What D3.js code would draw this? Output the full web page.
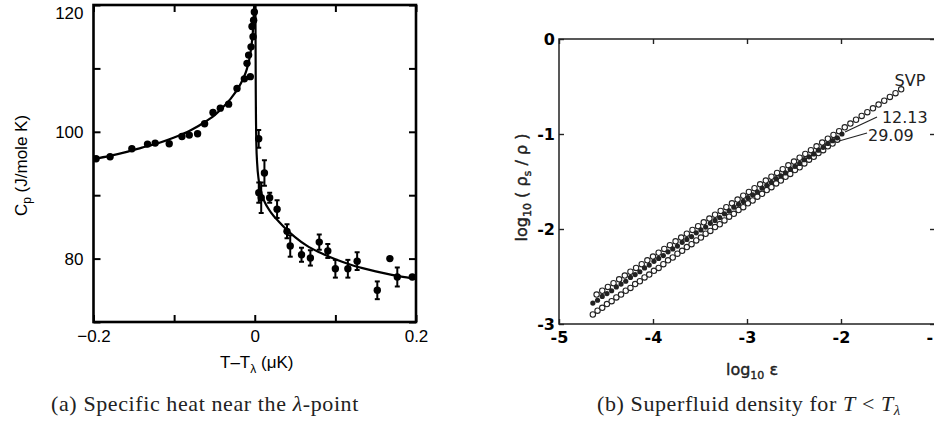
<!DOCTYPE html>
<html><head><meta charset="utf-8">
<script src="https://cdn.jsdelivr.net/npm/d3@7"></script>
<style>body{margin:0;background:#fff}svg{display:block}</style>
</head><body>
<svg id="c" width="934" height="434"></svg>
<script>
// ---------- Panel (a): specific heat ----------
const heatBelowT = [-0.1968,-0.1794,-0.1524,-0.133,-0.1235,-0.1061,-0.0903,-0.0812,-0.0709,-0.0622,-0.0518,-0.0427,-0.0324,-0.022,-0.0129,-0.0055,-0.0096,-0.0076,-0.0046,-0.0021,-0.0034,-0.0014,-0.0005];
const heatBelowC = [95.75,96.06,97.32,98.06,98.22,98.11,99.26,99.48,99.69,101.26,103.04,103.73,104.36,106.82,108.35,108.7,110.8,112.1,113.4,115.0,116.6,117.6,118.9];
const heatAboveT = [0.0049,0.005,0.008,0.012,0.0185,0.0277,0.040,0.044,0.058,0.069,0.080,0.0906,0.100,0.1155,0.127,0.152,0.1676,0.1768,0.1954];
const heatAboveC = [98.9,90.4,89.6,93.5,89.6,87.8,84.3,82.0,80.6,80.1,82.6,81.2,78.4,78.4,79.6,75.0,80.0,77.1,77.1];
const heatAboveErr = [1.4,1.6,2.4,2.0,0.8,1.4,1.1,1.7,1.1,1.2,1.2,1.1,1.4,1.4,1.4,1.4,0,1.5,0];
const fitBelowT = [-0.2,-0.18,-0.16,-0.14,-0.12,-0.10,-0.08,-0.06,-0.05,-0.04,-0.03,-0.02,-0.015,-0.01,-0.007,-0.005,-0.003,-0.002,-0.001,-0.0004];
const fitBelowC = [95.7,96.2,96.8,97.5,98.2,99.1,100.2,101.7,102.6,103.8,105.2,107.0,108.2,109.8,111.3,112.7,114.8,116.4,118.8,121];
const fitAboveT = [0.0008,0.0012,0.002,0.003,0.005,0.008,0.012,0.02,0.03,0.04,0.05,0.065,0.08,0.10,0.12,0.14,0.16,0.18,0.20];
const fitAboveC = [121,108,98.0,95.0,92.3,90.4,89.0,87.3,85.8,84.5,83.4,82.0,81.0,79.9,79.0,78.3,77.7,77.2,76.8];
const xTicksA = [-0.2,-0.1,0,0.1,0.2];
const xTickLabelsA = ["\u22120.2","","0","","0.2"];
const yTicksA = [70,80,90,100,110,120];
const yTickLabelsA = ["","80","","100","","120"];

// ---------- Panel (b): superfluid density ----------
const svpX = [-4.60,-4.54,-4.48,-4.42,-4.36,-4.30,-4.24,-4.18,-4.12,-4.06,-4.00,-3.94,-3.88,-3.82,-3.76,-3.70,-3.64,-3.58,-3.52,-3.46,-3.40,-3.34,-3.28,-3.22,-3.16,-3.10,-3.04,-2.98,-2.92,-2.86,-2.80,-2.74,-2.68,-2.62,-2.56,-2.50,-2.44,-2.38,-2.32,-2.26,-2.20,-2.14,-2.08,-2.02,-1.96,-1.90,-1.84,-1.78,-1.72,-1.66,-1.60,-1.54,-1.48,-1.42,-1.36];
const svpY = [-2.69,-2.65,-2.61,-2.57,-2.53,-2.49,-2.45,-2.41,-2.37,-2.33,-2.29,-2.25,-2.21,-2.17,-2.13,-2.09,-2.05,-2.01,-1.97,-1.93,-1.89,-1.85,-1.81,-1.77,-1.73,-1.69,-1.65,-1.61,-1.57,-1.53,-1.49,-1.45,-1.41,-1.37,-1.33,-1.29,-1.25,-1.21,-1.17,-1.13,-1.09,-1.05,-1.01,-0.97,-0.93,-0.89,-0.85,-0.81,-0.77,-0.73,-0.69,-0.65,-0.61,-0.57,-0.53];
const bar1213X = [-4.64,-4.59,-4.54,-4.49,-4.44,-4.39,-4.34,-4.29,-4.24,-4.19,-4.14,-4.09,-4.04,-3.99,-3.94,-3.89,-3.84,-3.79,-3.74,-3.69,-3.64,-3.59,-3.54,-3.49,-3.44,-3.39,-3.34,-3.29,-3.24,-3.19,-3.14,-3.09,-3.04,-2.99,-2.94,-2.89,-2.84,-2.79,-2.74,-2.69,-2.64,-2.59,-2.54,-2.49,-2.44,-2.39,-2.34,-2.29,-2.24,-2.19,-2.14,-2.09,-2.04,-1.99];
const bar1213Y = [-2.78,-2.75,-2.71,-2.68,-2.65,-2.61,-2.58,-2.55,-2.51,-2.48,-2.45,-2.41,-2.38,-2.34,-2.31,-2.28,-2.24,-2.21,-2.18,-2.14,-2.11,-2.08,-2.04,-2.01,-1.98,-1.94,-1.91,-1.88,-1.84,-1.81,-1.77,-1.74,-1.71,-1.67,-1.64,-1.61,-1.57,-1.54,-1.51,-1.47,-1.44,-1.41,-1.37,-1.34,-1.31,-1.27,-1.24,-1.21,-1.17,-1.14,-1.10,-1.07,-1.04,-1.00];
const bar2909X = [-4.64,-4.59,-4.54,-4.49,-4.44,-4.39,-4.34,-4.29,-4.24,-4.19,-4.14,-4.09,-4.04,-3.99,-3.94,-3.89,-3.84,-3.79,-3.74,-3.69,-3.64,-3.59,-3.54,-3.49,-3.44,-3.39,-3.34,-3.29,-3.24,-3.19,-3.14,-3.09,-3.04,-2.99,-2.94,-2.89,-2.84,-2.79,-2.74,-2.69,-2.64,-2.59,-2.54,-2.49,-2.44,-2.39,-2.34,-2.29,-2.24,-2.19,-2.14,-2.09,-2.04];
const bar2909Y = [-2.90,-2.86,-2.83,-2.79,-2.76,-2.72,-2.69,-2.65,-2.62,-2.58,-2.55,-2.51,-2.48,-2.44,-2.41,-2.37,-2.33,-2.30,-2.26,-2.23,-2.19,-2.16,-2.12,-2.09,-2.05,-2.02,-1.98,-1.95,-1.91,-1.87,-1.84,-1.80,-1.77,-1.73,-1.70,-1.66,-1.63,-1.59,-1.56,-1.52,-1.49,-1.45,-1.42,-1.38,-1.35,-1.31,-1.27,-1.24,-1.20,-1.17,-1.13,-1.10,-1.06];
const xTicksB = [-5,-4,-3,-2,-1];
const xTickLabelsB = ["-5","-4","-3","-2","-1"];
const yTicksB = [0,-1,-2,-3];
const yTickLabelsB = ["0","-1","-2","-3"];
// annotation anchors (data units)
const labelNames = ["SVP","12.13","29.09"];
const labelAt = [[-1.43,-0.495],[-1.565,-0.884],[-1.713,-1.074]];
const leaderFrom = [null,[-1.957,-0.979],[-2.021,-1.074]];
const leaderTo = [null,[-1.617,-0.821],[-1.723,-0.989]];

const svg = d3.select("#c");
const sans = "'Liberation Sans', Arial, Helvetica, sans-serif";
const lettering = "'DejaVu Sans', sans-serif";
const serif = "'Liberation Serif', 'DejaVu Serif', serif";

// ===== Panel A =====
const xA = d3.scaleLinear().domain([-0.2,0.2]).range([93.5,416]);
const yA = d3.scaleLinear().domain([70,120]).range([322,5]);
svg.append("clipPath").attr("id","clipA").append("rect")
  .attr("x",xA(-0.2)).attr("y",yA(120)).attr("width",xA(0.2)-xA(-0.2)).attr("height",yA(70)-yA(120));
const gA = svg.append("g");

function styleAxis(g, col, sw, font, fs, weight){
  g.select(".domain").remove();
  g.selectAll(".tick line").attr("stroke",col).attr("stroke-width",sw);
  g.selectAll(".tick text").attr("font-family",font).attr("font-size",fs).attr("fill","#000").attr("font-weight",weight||"normal");
  return g;
}
styleAxis(gA.append("g").attr("transform",`translate(0,${yA(70)})`)
  .call(d3.axisBottom(xA).tickValues(xTicksA).tickSize(-7).tickPadding(8).tickFormat((d,i)=>xTickLabelsA[i])),"#000",2,sans,17);
styleAxis(gA.append("g").attr("transform",`translate(0,${yA(120)})`)
  .call(d3.axisTop(xA).tickValues(xTicksA).tickSize(-7).tickFormat("")),"#000",2,sans,17);
const leftA = styleAxis(gA.append("g").attr("transform",`translate(${xA(-0.2)},0)`)
  .call(d3.axisLeft(yA).tickValues(yTicksA).tickSize(-7).tickPadding(10).tickFormat((d,i)=>yTickLabelsA[i])),"#000",2,sans,17);
leftA.selectAll(".tick text").filter(d=>d===120).attr("dy","0.82em");
styleAxis(gA.append("g").attr("transform",`translate(${xA(0.2)},0)`)
  .call(d3.axisRight(yA).tickValues(yTicksA).tickSize(-7).tickFormat("")),"#000",2,sans,17);

const plotA = gA.append("g").attr("clip-path","url(#clipA)");
const lineA = d3.line().x(d=>xA(d[0])).y(d=>yA(d[1])).curve(d3.curveMonotoneX);
plotA.append("path").datum(fitBelowT.map((t,i)=>[t,fitBelowC[i]]))
  .attr("d",lineA).attr("fill","none").attr("stroke","#000").attr("stroke-width",2.2);
plotA.append("path").datum(fitAboveT.map((t,i)=>[t,fitAboveC[i]]))
  .attr("d",lineA).attr("fill","none").attr("stroke","#000").attr("stroke-width",2.2);
const above = heatAboveT.map((t,i)=>({t, c:heatAboveC[i], e:heatAboveErr[i]}));
const eb = plotA.selectAll("g.eb").data(above.filter(d=>d.e>0)).enter().append("g");
eb.append("line").attr("x1",d=>xA(d.t)).attr("x2",d=>xA(d.t)).attr("y1",d=>yA(d.c-d.e)).attr("y2",d=>yA(d.c+d.e)).attr("stroke","#000").attr("stroke-width",2);
eb.append("line").attr("x1",d=>xA(d.t)-2.5).attr("x2",d=>xA(d.t)+2.5).attr("y1",d=>yA(d.c-d.e)).attr("y2",d=>yA(d.c-d.e)).attr("stroke","#000").attr("stroke-width",2);
eb.append("line").attr("x1",d=>xA(d.t)-2.5).attr("x2",d=>xA(d.t)+2.5).attr("y1",d=>yA(d.c+d.e)).attr("y2",d=>yA(d.c+d.e)).attr("stroke","#000").attr("stroke-width",2);
plotA.selectAll("circle.ab").data(above).enter().append("circle")
  .attr("cx",d=>xA(d.t)).attr("cy",d=>yA(d.c)).attr("r",3.7).attr("fill","#000");
plotA.selectAll("circle.bl").data(heatBelowT.map((t,i)=>[t,heatBelowC[i]])).enter().append("circle")
  .attr("cx",d=>xA(d[0])).attr("cy",d=>yA(d[1])).attr("r",3.7).attr("fill","#000");
gA.append("rect").attr("x",xA(-0.2)).attr("y",yA(120)).attr("width",xA(0.2)-xA(-0.2)).attr("height",yA(70)-yA(120))
  .attr("fill","none").attr("stroke","#000").attr("stroke-width",2.6);
const yTitleA = gA.append("text").attr("transform",`translate(27,${(yA(70)+yA(120))/2 + 2}) rotate(-90)`)
  .attr("text-anchor","middle").attr("font-family",sans).attr("font-size",17);
yTitleA.append("tspan").text("C");
yTitleA.append("tspan").attr("font-size",12).attr("dy",4).text("p");
yTitleA.append("tspan").attr("dy",-4).text(" (J/mole K)");
const xTitleA = gA.append("text").attr("x",xA(0)+2).attr("y",368)
  .attr("text-anchor","middle").attr("font-family",sans).attr("font-size",17);
xTitleA.append("tspan").text("T\u2013T");
xTitleA.append("tspan").attr("font-size",12).attr("dy",5).text("\u03bb");
xTitleA.append("tspan").attr("dy",-5).text(" (\u03bcK)");

// ===== Panel B =====
const xB = d3.scaleLinear().domain([-5,-1]).range([559,935]);
const yB = d3.scaleLinear().domain([-3,0]).range([324,39]);
const gB = svg.append("g");
const ink = "#222";
styleAxis(gB.append("g").attr("transform",`translate(0,${yB(-3)})`)
  .call(d3.axisBottom(xB).tickValues(xTicksB).tickSize(-5).tickPadding(8).tickFormat((d,i)=>xTickLabelsB[i])),ink,1.4,lettering,16,"bold");
styleAxis(gB.append("g").attr("transform",`translate(0,${yB(0)})`)
  .call(d3.axisTop(xB).tickValues(xTicksB).tickSize(-5).tickFormat("")),ink,1.4,lettering,16);
styleAxis(gB.append("g").attr("transform",`translate(${xB(-5)},0)`)
  .call(d3.axisLeft(yB).tickValues(yTicksB).tickSize(-5).tickPadding(4).tickFormat((d,i)=>yTickLabelsB[i])),ink,1.4,lettering,16,"bold");
styleAxis(gB.append("g").attr("transform",`translate(${xB(-1)},0)`)
  .call(d3.axisRight(yB).tickValues(yTicksB).tickSize(-5).tickFormat("")),ink,1.4,lettering,16);
gB.append("rect").attr("x",xB(-5)).attr("y",yB(0)).attr("width",xB(-1)-xB(-5)).attr("height",yB(-3)-yB(0))
  .attr("fill","none").attr("stroke",ink).attr("stroke-width",1.5);

function openSeries(xs, ys){
  gB.append("g").selectAll("circle").data(xs.map((x,i)=>[x,ys[i]])).enter().append("circle")
    .attr("cx",d=>xB(d[0])).attr("cy",d=>yB(d[1])).attr("r",2.7)
    .attr("fill","#fff").attr("stroke",ink).attr("stroke-width",1.1);
}
openSeries(bar2909X, bar2909Y);
openSeries(svpX, svpY);
gB.append("g").selectAll("circle").data(bar1213X.map((x,i)=>[x,bar1213Y[i]])).enter().append("circle")
  .attr("cx",d=>xB(d[0])).attr("cy",d=>yB(d[1])).attr("r",2.6).attr("fill",ink);

labelNames.forEach((name,i)=>{
  gB.append("text").attr("x",xB(labelAt[i][0])).attr("y",yB(labelAt[i][1]))
    .attr("font-family",lettering).attr("font-size",16).attr("fill",ink).text(name);
  if(leaderFrom[i]){
    gB.append("line").attr("x1",xB(leaderFrom[i][0])).attr("y1",yB(leaderFrom[i][1]))
      .attr("x2",xB(leaderTo[i][0])).attr("y2",yB(leaderTo[i][1])).attr("stroke",ink).attr("stroke-width",1.2);
  }
});
const xTitleB = gB.append("text").attr("x",752).attr("y",375).attr("text-anchor","middle")
  .attr("font-family",lettering).attr("font-size",16).attr("fill",ink).attr("stroke",ink).attr("stroke-width",0.4);
xTitleB.append("tspan").text("log");
xTitleB.append("tspan").attr("font-size",11).attr("dy",4).text("10");
xTitleB.append("tspan").attr("dy",-4).text(" \u03b5");
const yTitleB = gB.append("text").attr("transform",`translate(527,${(yB(0)+yB(-3))/2+6}) rotate(-90)`)
  .attr("text-anchor","middle").attr("font-family",lettering).attr("font-size",16).attr("fill",ink).attr("stroke",ink).attr("stroke-width",0.4);
yTitleB.append("tspan").text("log");
yTitleB.append("tspan").attr("font-size",11).attr("dy",4).text("10");
yTitleB.append("tspan").attr("dy",-4).text(" ( \u03c1");
yTitleB.append("tspan").attr("font-size",11).attr("dy",4).text("s");
yTitleB.append("tspan").attr("dy",-4).text(" / \u03c1 )");

// ===== Captions =====
const capA = svg.append("text").attr("x",205).attr("y",411).attr("text-anchor","middle")
  .attr("font-family",serif).attr("font-size",22).attr("letter-spacing",0.6).attr("fill","#222");
capA.append("tspan").text("(a) Specific heat near the ");
capA.append("tspan").attr("font-style","italic").text("\u03bb");
capA.append("tspan").text("-point");
const capB = svg.append("text").attr("x",749).attr("y",411).attr("text-anchor","middle")
  .attr("font-family",serif).attr("font-size",22).attr("letter-spacing",0.6).attr("fill","#222");
capB.append("tspan").text("(b) Superfluid density for ");
capB.append("tspan").attr("font-style","italic").text("T");
capB.append("tspan").text(" < ");
capB.append("tspan").attr("font-style","italic").text("T");
capB.append("tspan").attr("font-style","italic").attr("font-size",15).attr("dy",4).text("\u03bb");
</script>
</body></html>
